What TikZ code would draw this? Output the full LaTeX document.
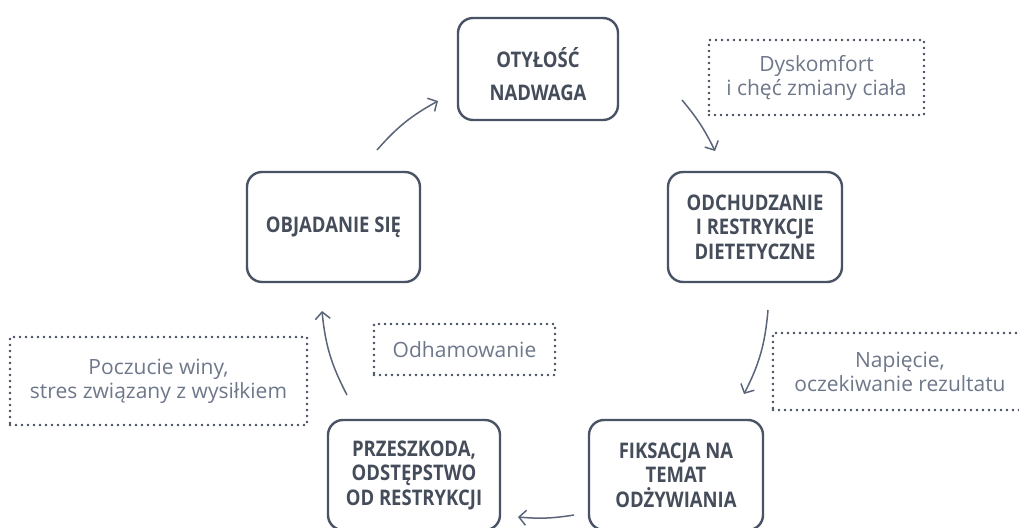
\documentclass[tikz,border=0pt]{standalone}
\usepackage{fontspec}
\setmainfont{Open Sans}
\newfontfamily\stagefont[FakeStretch=0.86]{Open Sans}
\usetikzlibrary{arrows.meta,calc}
\definecolor{boxline}{HTML}{4A5365}
\definecolor{boxtext}{HTML}{454C5A}
\definecolor{labtext}{HTML}{6E788A}
\definecolor{dotc}{HTML}{434C5C}
\definecolor{arrc}{HTML}{5B6579}
\begin{document}
\begin{tikzpicture}[x=1pt,y=-1pt,
 stagebox/.style={draw=boxline, line width=2.4pt, rounded corners=15pt, text=boxtext,
   font=\stagefont\bfseries\fontsize{21.5}{24.5}\selectfont, align=center, inner sep=0pt},
 stagetext/.style={text=boxtext, font=\stagefont\bfseries\fontsize{21.5}{24.5}\selectfont, align=center, inner sep=0pt},
 notebox/.style={draw=dotc, line width=2.8pt, dash pattern=on 0pt off 6pt, line cap=round,
   text=labtext, font=\fontsize{21}{24}\selectfont, align=center, inner sep=0pt},
 flow/.style={draw=arrc, line width=1.5pt, -{Straight Barb[length=7pt,width=15pt]}}]
\fill[white] (0,0) rectangle (1019,527);
\useasboundingbox (0,0) rectangle (1019,527);

% stage boxes
\node[stagebox, minimum width=160pt, minimum height=102pt] (ob) at (538,69) {};
\node[stagetext] (obt) at (538,74) {OTYŁOŚĆ\\[9pt]NADWAGA};
\node[stagebox, minimum width=174pt, minimum height=110pt] (od) at (755,227) {ODCHUDZANIE\\I RESTRYKCJE\\DIETETYCZNE};
\node[stagebox, minimum width=174pt, minimum height=110pt] (fi) at (676,475) {FIKSACJA NA\\TEMAT\\ODŻYWIANIA};
\node[stagebox, minimum width=172pt, minimum height=110pt] (pr) at (414,475) {PRZESZKODA,\\ODSTĘPSTWO\\OD RESTRYKCJI};
\node[stagebox, minimum width=173pt, minimum height=110pt] (oj) at (333.5,227) {OBJADANIE SIĘ};

% note boxes
\node[notebox, minimum width=215pt, minimum height=75pt] (n1) at (816.5,77.5) {Dyskomfort\\i chęć zmiany ciała};
\node[notebox, minimum width=254pt, minimum height=77pt] (n2) at (900,371.5) {Napięcie,\\oczekiwanie rezultatu};
\node[notebox, minimum width=181pt, minimum height=51pt] (n3) at (464.5,349.5) {Odhamowanie};
\node[notebox, minimum width=297pt, minimum height=88pt] (n4) at (158.5,381) {Poczucie winy,\\stres związany z wysiłkiem};

% arrow ends
\coordinate (a1s) at (377,150); \coordinate (a1e) at (438,101);
\coordinate (a2s) at (682,100); \coordinate (a2e) at (715,151);
\coordinate (a3s) at (768,310); \coordinate (a3e) at (744,394);
\coordinate (a4s) at (574,515); \coordinate (a4e) at (518,517);
\coordinate (a5s) at (347,395); \coordinate (a5e) at (322,311);

\draw[flow] (a1s) to[bend left=10] (a1e);
\draw[flow] (a2s) to[bend left=7] (a2e);
\draw[flow] (a3s) to[bend left=11] (a3e);
\draw[flow] (a4s) to[bend left=7] (a4e);
\draw[flow] (a5s) to[bend left=11] (a5e);
\end{tikzpicture}
\end{document}
